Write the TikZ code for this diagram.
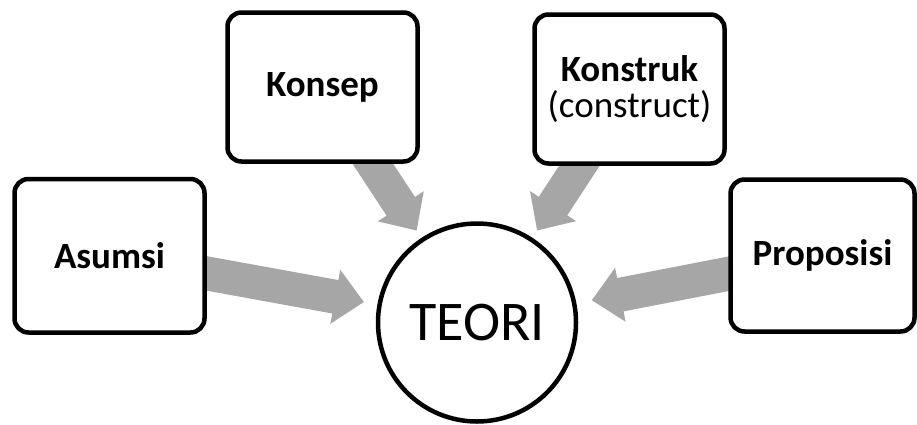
\documentclass[tikz,border=0pt]{standalone}
\usepackage{fontspec}
\setmainfont{Carlito}
\usetikzlibrary{calc,backgrounds}
\definecolor{arrowgray}{RGB}{166,166,166}
% #1 source node, #2 target node, #3 tip distance from target centre
\newcommand{\blockarr}[3]{%
  \coordinate (T) at ($(#2.center)!#3!(#1.center)$);
  \coordinate (B) at ($(T)!29pt!(#1.center)$);
  \fill[arrowgray]
    ($(#1.center)!17pt!90:(T)$) -- ($(B)!17pt!-90:(#1.center)$) --
    ($(B)!27.5pt!-90:(#1.center)$) -- (T) --
    ($(B)!27.5pt!90:(#1.center)$) -- ($(B)!17pt!90:(#1.center)$) --
    ($(#1.center)!17pt!-90:(T)$) -- cycle;
}
\begin{document}
\begin{tikzpicture}[x=1pt,y=-1pt,
  box/.style={draw, line width=4.5pt, rounded corners=14pt, fill=white,
    inner sep=0pt, align=center,
    font=\fontsize{37}{36}\selectfont},
  circ/.style={draw, circle, line width=4.5pt, fill=white, inner sep=0pt,
    minimum size=198pt, font=\fontsize{56}{60}\selectfont}]
\useasboundingbox (0,0) rectangle (917,424);
\node[box, minimum width=190pt, minimum height=153.5pt] (asumsi) at (109.5,255.75) {\textbf{Asumsi}};
\node[box, minimum width=190pt, minimum height=149pt] (konsep) at (322.5,87) {\textbf{Konsep}};
\node[box, minimum width=190pt, minimum height=149pt] (konstruk) at (629.5,89) {\textbf{Konstruk}\\(construct)};
\node[box, minimum width=184pt, minimum height=152pt] (proposisi) at (822.5,255.5) {\textbf{Proposisi}};
\node[circ] (teori) at (477,322.5) {TEORI};
\begin{scope}[on background layer]
  \blockarr{asumsi}{teori}{115pt}
  \blockarr{konsep}{teori}{110pt}
  \blockarr{konstruk}{teori}{110pt}
  \blockarr{proposisi}{teori}{117pt}
\end{scope}
\end{tikzpicture}
\end{document}
